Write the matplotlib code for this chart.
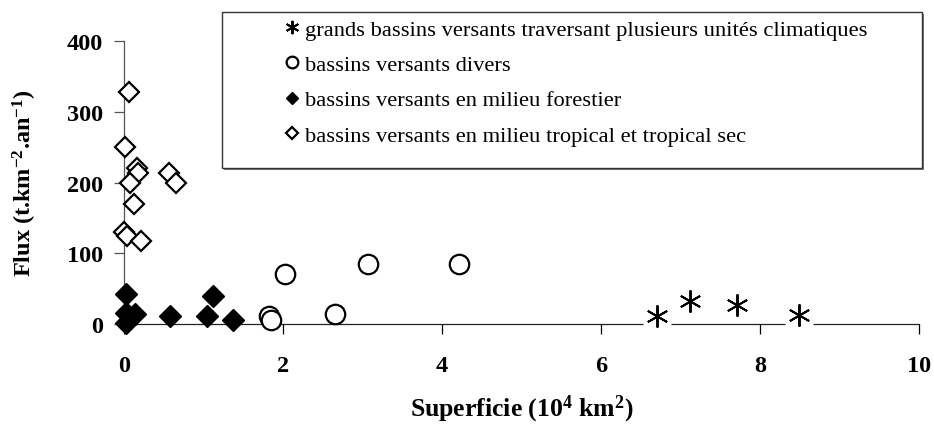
import matplotlib
matplotlib.use("Agg")
import matplotlib.pyplot as plt
from matplotlib.patches import Rectangle

plt.rcParams['font.family'] = ['Liberation Serif', 'DejaVu Serif']
plt.rcParams['mathtext.fontset'] = 'custom'
plt.rcParams['mathtext.rm'] = 'Liberation Serif:bold'
plt.rcParams['mathtext.bf'] = 'Liberation Serif:bold'
plt.rcParams['mathtext.it'] = 'Liberation Serif:bold'

# grands bassins versants traversant plusieurs unites climatiques
grands_x = [6.71, 7.12, 7.71, 8.49]
grands_y = [11, 33, 27, 13]

# bassins versants divers
divers_x = [1.83, 1.85, 2.02, 2.65, 3.07, 4.22]
divers_y = [12, 5, 71, 14, 85, 85]

# bassins versants en milieu forestier
forest_x = [0.02, 0.03, 0.14, 0.03, 0.58, 1.04, 1.37, 1.12]
forest_y = [42, 16, 14, 2, 12, 12, 5, 40]

# bassins versants en milieu tropical et tropical sec
trop_x = [0.06, 0.01, 0.16, 0.18, 0.07, 0.12, 0.0, 0.04, 0.22, 0.57, 0.65]
trop_y = [328, 250, 221, 213, 200, 169, 130, 125, 118, 213, 199]

labels = ["grands bassins versants traversant plusieurs unités climatiques",
          "bassins versants divers",
          "bassins versants en milieu forestier",
          "bassins versants en milieu tropical et tropical sec"]

xticks = [0, 2, 4, 6, 8, 10]
yticks = [0, 100, 200, 300, 400]

W, H = 934, 431
fig = plt.figure(figsize=(W/100, H/100), dpi=100)
ax = fig.add_axes([124/W, 106/H, 795/W, 283/H])

ax.spines['top'].set_visible(False)
ax.spines['right'].set_visible(False)
ax.spines['left'].set_color('#555555')
ax.spines['bottom'].set_color('#222222')
ax.spines['left'].set_linewidth(0.9)
ax.spines['bottom'].set_linewidth(0.9)

# white boxes behind asterisks (they break the axis line)
ax.plot(grands_x, grands_y, ls='none', marker='s', ms=20, mfc='white',
        mec='none', clip_on=False, zorder=3)
h1, = ax.plot(grands_x, grands_y, ls='none', marker=(6, 2, 0), ms=16,
              mec='black', mew=1.4, clip_on=False, zorder=4, label=labels[0])
h2, = ax.plot(divers_x, divers_y, ls='none', marker='o', ms=14, mfc='white',
              mec='black', mew=1.6, clip_on=False, zorder=4, label=labels[1])
h3, = ax.plot(forest_x, forest_y, ls='none', marker='D', ms=11, mfc='black',
              mec='black', mew=1.0, clip_on=False, zorder=5, label=labels[2])
h4, = ax.plot(trop_x, trop_y, ls='none', marker='D', ms=10.5, mfc='white',
              mec='black', mew=1.6, clip_on=False, zorder=6, label=labels[3])

ax.set_xlim(0, 10)
ax.set_ylim(0, 400)
ax.set_xticks(xticks)
ax.set_yticks(yticks)
ax.tick_params(axis='x', direction='out', length=7, width=0.9, pad=15,
               labelsize=17.5)
ax.tick_params(axis='y', direction='out', length=7, width=0.9, pad=8,
               labelsize=17.5, color='#555555')
for t in ax.get_xticklabels() + ax.get_yticklabels():
    t.set_fontweight('bold')

ax.set_xlabel(r'Superficie (10$^{4}$ km$^{2}$)', fontsize=18.5,
              fontweight='bold', labelpad=12)
ax.set_ylabel(r'Flux (t.km$^{-2}$.an$^{-1}$)', fontsize=17.5,
              fontweight='bold', labelpad=20)

# legend frame with a small shadow
fig.patches.append(Rectangle((224/W, (H - 171)/H), 700/W, 156/H,
                             transform=fig.transFigure, facecolor='#777777',
                             edgecolor='none', zorder=8))
fig.patches.append(Rectangle((222/W, (H - 169)/H), 700/W, 156/H,
                             transform=fig.transFigure, facecolor='white',
                             edgecolor='#333333', linewidth=1.0, zorder=9))

leg = fig.legend(handles=[h1, h2, h3, h4], loc='upper left',
                 bbox_to_anchor=(285/W, 1 - 20/H),
                 bbox_transform=fig.transFigure,
                 fontsize=16.2, markerscale=0.6, handlelength=0.6,
                 handletextpad=0.3, labelspacing=0.65, borderpad=0,
                 borderaxespad=0, frameon=False)
leg.set_zorder(10)

fig.savefig('out.png', dpi=100)
